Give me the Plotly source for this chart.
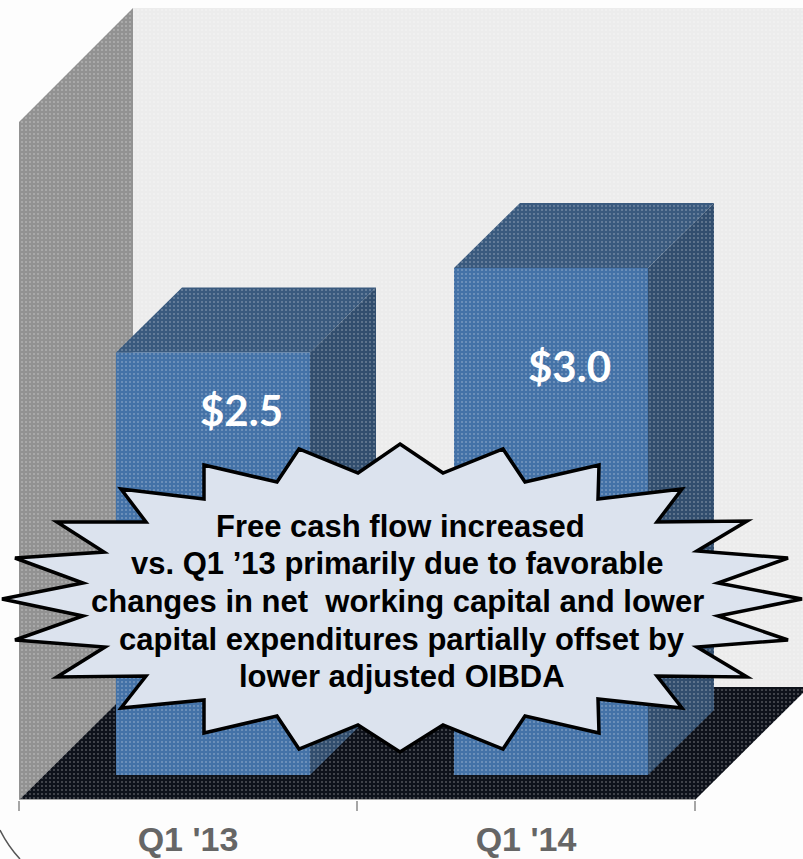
import plotly.graph_objects as go

categories = ["Q1 '13", "Q1 '14"]
free_cash_flow = [2.5, 3.0]
value_labels = ["$2.5", "$3.0"]
label_x = [0.157, 1.13]
label_y = [2.16, 2.42]

callout_lines = [
    "Free cash flow increased",
    "vs. Q1 \u201913 primarily due to favorable",
    "changes in net\u00a0 working capital and lower",
    "capital expenditures partially offset by",
    "lower adjusted OIBDA",
]

# pixel layout of the page, the axes are set so one category = 338px, 1.0 = 169px
WIDTH = 803
HEIGHT = 859
BOTTOM = 59
PLOT_H = HEIGHT - BOTTOM
X_UNIT = 338
Y_UNIT = 169
X_MIN = -188 / X_UNIT
X_MAX = X_MIN + WIDTH / X_UNIT
Y_MIN = -25 / Y_UNIT
Y_MAX = Y_MIN + PLOT_H / Y_UNIT

BAR_WIDTH = 194 / X_UNIT
BAR_OFFSET = -72 / X_UNIT
DEPTH_X = 66 / X_UNIT
DEPTH_Y = 65 / Y_UNIT
# 3d box around the bars
BOX_LEFT = -0.5
BOX_RIGHT = 1.5
BOX_DX = 114 / X_UNIT
BOX_DY = 113 / Y_UNIT
WALL_TOP = 767 / Y_UNIT
WALL_FRONT_TOP = 653 / Y_UNIT


def poly(points):
    return "M" + " L".join(f"{x} {y}" for x, y in points) + " Z"


def face(points, color):
    return dict(type="path", path=poly(points), xref="x", yref="y", fillcolor=color,
                line=dict(width=0), layer="below")


def page_y(y):
    # paper coordinates are relative to the plot area, not the page
    return 1 - y / PLOT_H


def px_path(points):
    return "M" + " L".join(f"{x / WIDTH} {page_y(y)}" for x, y in points) + " Z"


shapes = [
    # back wall
    face([(BOX_LEFT + BOX_DX, Y_MIN + BOX_DY), (X_MAX, Y_MIN + BOX_DY), (X_MAX, WALL_TOP),
          (BOX_LEFT + BOX_DX, WALL_TOP)], "#ececec"),
    # side wall
    face([(BOX_LEFT, Y_MIN), (BOX_LEFT + BOX_DX, Y_MIN + BOX_DY), (BOX_LEFT + BOX_DX, WALL_TOP),
          (BOX_LEFT, WALL_FRONT_TOP)], "#929292"),
    # floor
    face([(BOX_LEFT, Y_MIN), (BOX_RIGHT, Y_MIN), (BOX_RIGHT + BOX_DX, Y_MIN + BOX_DY),
          (BOX_LEFT + BOX_DX, Y_MIN + BOX_DY)], "#0e121b"),
]

# top and side of each bar follow from its value
for i, value in enumerate(free_cash_flow):
    left = i + BAR_OFFSET
    right = left + BAR_WIDTH
    shapes.append(face([(left, value), (right, value), (right + DEPTH_X, value + DEPTH_Y),
                        (left + DEPTH_X, value + DEPTH_Y)], "#3a5a7e"))
    shapes.append(face([(right, 0), (right + DEPTH_X, DEPTH_Y), (right + DEPTH_X, value + DEPTH_Y),
                        (right, value)], "#324e6e"))

# axis line under the floor
shapes.append(dict(type="line", xref="x", yref="y", x0=BOX_LEFT, x1=BOX_RIGHT, y0=Y_MIN, y1=Y_MIN,
                   line=dict(color="#a6a6a6", width=2), layer="above"))

# starburst callout, page pixels
burst = [
    (400, 444), (443, 473), (503, 449), (525, 482), (599, 465), (598, 499), (682, 489), (657, 522),
    (747, 521), (697, 551), (788, 558), (718, 583), (802, 599), (718, 616), (788, 640), (697, 647),
    (747, 677), (657, 676), (682, 708), (598, 699), (599, 733), (525, 716), (503, 749), (443, 725),
    (400, 752), (358, 725), (299, 749), (277, 716), (204, 733), (204, 700), (121, 708), (146, 676),
    (57, 677), (105, 647), (15, 640), (83, 616), (2, 599), (83, 583), (15, 558), (104, 552),
    (57, 522), (146, 522), (121, 489), (204, 499), (204, 465), (277, 482), (299, 449), (358, 473),
]
shapes.append(dict(type="path", path=px_path(burst), xref="paper", yref="paper", fillcolor="#dce3ee",
                   line=dict(color="#000000", width=3.5), layer="above"))

# slide corner in the bottom left
shapes.append(dict(type="path", xref="paper", yref="paper", layer="above",
                   path=f"M0 {page_y(830)} Q{8 / WIDTH} {page_y(846)} {20 / WIDTH} {page_y(859)}",
                   line=dict(color="#555555", width=1.5)))

fig = go.Figure()
fig.add_trace(go.Bar(
    x=categories,
    y=free_cash_flow,
    width=BAR_WIDTH,
    offset=BAR_OFFSET,
    marker=dict(color="#4472a7", line=dict(width=0)),
    hoverinfo="skip",
))
# print screen style dither over the whole chart, on its own linear axes
fig.add_trace(go.Scatter(
    x=[0, 1, 1, 0, 0],
    y=[0, 0, 1, 1, 0],
    xaxis="x2",
    yaxis="y2",
    mode="none",
    fill="toself",
    fillcolor="rgba(0,0,0,0)",
    fillpattern=dict(shape=".", size=4, solidity=0.2, fgcolor="#ffffff", fgopacity=0.28,
                     bgcolor="rgba(0,0,0,0)", fillmode="overlay"),
    hoverinfo="skip",
))

annotations = []
for i, label in enumerate(value_labels):
    annotations.append(dict(x=label_x[i], y=label_y[i], text=label, showarrow=False, xref="x", yref="y",
                            font=dict(family="Lato", size=42, color="#ffffff", weight="bold")))

line_xs = [400, 397, 397, 402, 402]
line_ys = [526, 563, 601, 639, 676]
for text, x, y in zip(callout_lines, line_xs, line_ys):
    annotations.append(dict(x=x / WIDTH, y=page_y(y), text=text, showarrow=False, xref="paper", yref="paper",
                            xanchor="center", yanchor="middle",
                            font=dict(family="Liberation Sans", size=31, color="#000000", weight="bold")))

fig.update_layout(
    width=WIDTH,
    height=HEIGHT,
    margin=dict(l=0, r=0, t=0, b=BOTTOM, pad=0),
    paper_bgcolor="#fdfdfd",
    plot_bgcolor="rgba(0,0,0,0)",
    showlegend=False,
    shapes=shapes,
    annotations=annotations,
    xaxis=dict(type="category", range=[X_MIN, X_MAX], tickson="boundaries", ticks="outside", ticklen=10,
               tickcolor="#a6a6a6", tickwidth=2, showgrid=False, showline=False, zeroline=False,
               automargin=False,
               tickfont=dict(family="Liberation Sans", size=34, color="#666666", weight="bold"),
               ticklabelstandoff=16),
    yaxis=dict(range=[Y_MIN, Y_MAX], visible=False, automargin=False),
    xaxis2=dict(overlaying="x", range=[0, 1], visible=False, automargin=False),
    yaxis2=dict(overlaying="y", range=[0, 1], visible=False, automargin=False),
)

fig.write_html("out.html", post_script="document.body.style.margin='0';", config=dict(displayModeBar=False))
